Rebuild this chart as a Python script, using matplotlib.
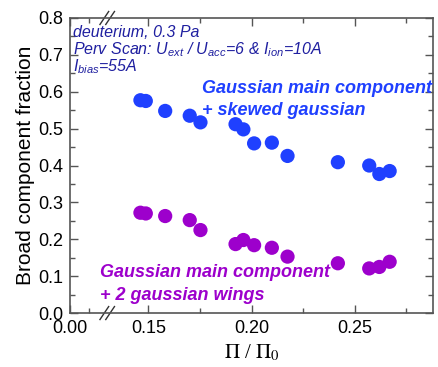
import numpy as np
import matplotlib
matplotlib.use('Agg')
import matplotlib.pyplot as plt
from matplotlib.ticker import FixedLocator, FormatStrFormatter

# data
pi_ratio = [0.1461, 0.1487, 0.1581, 0.1700, 0.1752, 0.1922, 0.1960,
            0.2012, 0.2098, 0.2174, 0.2418, 0.2570, 0.2619, 0.2669]
frac_skewed = [0.577, 0.575, 0.548, 0.535, 0.517, 0.512, 0.498,
               0.460, 0.462, 0.426, 0.409, 0.400, 0.377, 0.385]
frac_wings = [0.272, 0.270, 0.263, 0.252, 0.225, 0.187, 0.198,
              0.184, 0.177, 0.153, 0.135, 0.121, 0.125, 0.139]

xticks_major = [0.00, 0.15, 0.20, 0.25]
xtick_labels = ['0.00', '0.15', '0.20', '0.25']
xticks_minor = [0.01, 0.175, 0.225, 0.275]

BLUE = '#1f40ff'
PURPLE = '#9d00cc'
NAVY = '#1f1fa0'

# broken x axis: 0..0.02 then jump to 0.13
B1, B2, K1 = 0.02, 0.13, 0.9
XMAX = 0.288


def fwd(x):
    x = np.asarray(x, dtype=float)
    return np.where(x <= B1, x * K1, B1 * K1 + (x - B2))


def inv(t):
    t = np.asarray(t, dtype=float)
    return np.where(t <= B1 * K1, t / K1, t - B1 * K1 + B2)


plt.rcParams['font.family'] = 'Liberation Sans'
plt.rcParams['mathtext.fontset'] = 'custom'
plt.rcParams['mathtext.rm'] = 'Liberation Sans:italic'
plt.rcParams['mathtext.it'] = 'Liberation Sans:italic'
plt.rcParams['mathtext.bf'] = 'Liberation Sans:bold:italic'

fig = plt.figure(figsize=(4.38, 3.67), dpi=100)
ax = fig.add_axes([0.160, 0.147, 0.829, 0.804])
ax.set_xscale('function', functions=(fwd, inv))

ax.scatter(pi_ratio, frac_skewed, s=105, color=BLUE, edgecolors='none', zorder=3)
ax.scatter(pi_ratio, frac_wings, s=105, color=PURPLE, edgecolors='none', zorder=3)

ax.set_xlim(0.0, XMAX)
ax.set_ylim(0.0, 0.8)
ax.xaxis.set_major_locator(FixedLocator(xticks_major))
ax.xaxis.set_minor_locator(FixedLocator(xticks_minor))
ax.set_xticklabels(xtick_labels)
ax.set_yticks(np.arange(0, 0.81, 0.1))
ax.set_yticks(np.arange(0.05, 0.8, 0.1), minor=True)
ax.yaxis.set_major_formatter(FormatStrFormatter('%.1f'))

ax.tick_params(which='both', direction='in', top=True, right=True,
               color='#555555', labelsize=13)
ax.tick_params(axis='x', pad=5)
ax.tick_params(axis='y', pad=5)
ax.tick_params(which='major', length=6, width=1)
ax.tick_params(which='minor', length=3.5, width=1)
for sp in ax.spines.values():
    sp.set_color('#555555')
    sp.set_linewidth(1.2)

ax.set_ylabel('Broad component fraction', fontsize=15, labelpad=2)
ax.set_xlabel(r'$\Pi$ / $\Pi_0$', fontsize=15, family='Liberation Serif',
              math_fontfamily='stix', labelpad=4)

# break marks "//" on bottom and top spines
xb_ax = float(fwd(B1) / fwd(XMAX))
for yb in (0.0, 1.0):
    for dx in (-0.008, 0.008):
        ax.plot([xb_ax + dx - 0.012, xb_ax + dx + 0.012],
                [yb - 0.022, yb + 0.022], transform=ax.transAxes,
                color='#333333', lw=1.0, clip_on=False)

# annotations
ax.text(0.008, 0.935, 'deuterium, 0.3 Pa', transform=ax.transAxes,
        fontsize=11.5, style='italic', color=NAVY, va='baseline')
ax.text(0.008, 0.877, r'Perv Scan: $U_{ext}$ / $U_{acc}$=6 & $I_{ion}$=10A',
        transform=ax.transAxes, fontsize=11.5, style='italic', color=NAVY,
        va='baseline')
ax.text(0.008, 0.818, r'$I_{bias}$=55A', transform=ax.transAxes,
        fontsize=11.5, style='italic', color=NAVY, va='baseline')

ax.text(0.364, 0.746, 'Gaussian main component', transform=ax.transAxes,
        fontsize=13, style='italic', weight='bold', color=BLUE, va='baseline')
ax.text(0.364, 0.671, '+ skewed gaussian', transform=ax.transAxes,
        fontsize=13, style='italic', weight='bold', color=BLUE, va='baseline')
ax.text(0.083, 0.123, 'Gaussian main component', transform=ax.transAxes,
        fontsize=13, style='italic', weight='bold', color=PURPLE, va='baseline')
ax.text(0.083, 0.044, '+ 2 gaussian wings', transform=ax.transAxes,
        fontsize=13, style='italic', weight='bold', color=PURPLE, va='baseline')

fig.savefig('out.png', dpi=100)
